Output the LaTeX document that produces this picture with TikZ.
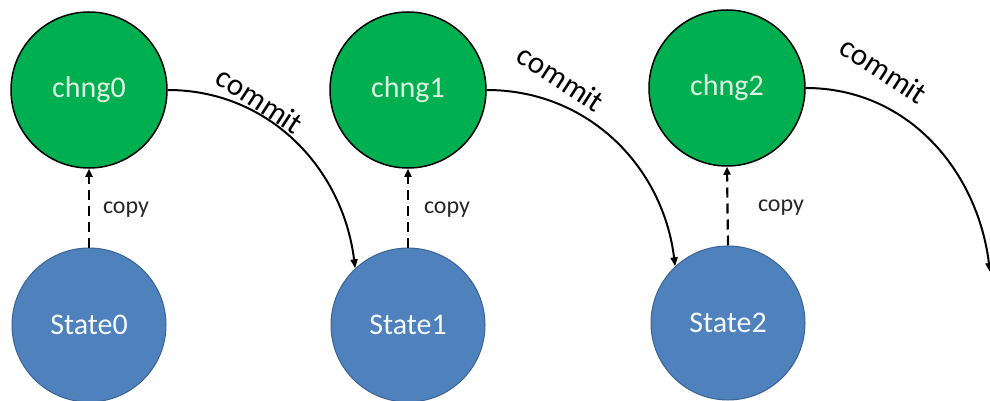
\documentclass[tikz,border=0pt]{standalone}
\usepackage{fontspec}
\setmainfont{Carlito}
\usetikzlibrary{arrows.meta}
\definecolor{chgreen}{HTML}{00B050}
\definecolor{stblue}{HTML}{4F81BD}
\definecolor{stborder}{HTML}{3B6397}
\definecolor{chtext}{HTML}{DDF3E2}
\tikzset{
  chngnode/.style={circle, draw=black, line width=1.5pt, fill=chgreen,
    minimum size=156pt, inner sep=0pt, text=chtext, font=\fontsize{30}{36}\selectfont},
  statenode/.style={circle, draw=stborder, line width=1pt, fill=stblue,
    minimum size=154pt, inner sep=0pt, text=white!95!stblue, font=\fontsize{30}{36}\selectfont},
  copyarrow/.style={-{Triangle[length=8pt,width=7pt]}, dashed, dash pattern=on 10pt off 6pt, line width=2.2pt},
  commitarrow/.style={-{Triangle[length=9pt,width=7pt]}, line width=2pt},
  copylabel/.style={font=\fontsize{24}{28}\selectfont, text=black!85},
  commitlabel/.style={font=\fontsize{31}{36}\selectfont, rotate=-33}
}
\begin{document}
\begin{tikzpicture}[x=1pt, y=-1pt]
  \useasboundingbox (0,0) rectangle (990,401);
  \clip (0,0) rectangle (990,401);
  % change sets and states
  \node[chngnode] (c0) at (89,90) {chng0};
  \node[chngnode] (c1) at (408,90) {chng1};
  \node[chngnode] (c2) at (727,88) {chng2};
  \node[statenode] (s0) at (89,325) {State0};
  \node[statenode] (s1) at (408,325) {State1};
  \node[statenode] (s2) at (728,323) {State2};
  \coordinate (s3) at (990,272);
  % copy arrows
  \draw[copyarrow] (s0.north) -- (c0.south);
  \draw[copyarrow] (s1.north) -- (c1.south);
  \draw[copyarrow] (s2.north) -- (c2.south);
  \node[copylabel] (k0) at (126,210) {copy};
  \node[copylabel] (k1) at (447,210) {copy};
  \node[copylabel] (k2) at (781,208) {copy};
  % commit arrows
  \draw[commitarrow] (c0.east) to[out=0, in=97] (s1.133);
  \draw[commitarrow] (c1.east) to[out=0, in=97] (s2.133);
  \draw[commitarrow] (c2.east) to[out=0, in=97] (s3);
  \node[commitlabel] (m0) at (260,100) {commit};
  \node[commitlabel] (m1) at (561,78) {commit};
  \node[commitlabel] (m2) at (884,70) {commit};
\end{tikzpicture}
\end{document}
